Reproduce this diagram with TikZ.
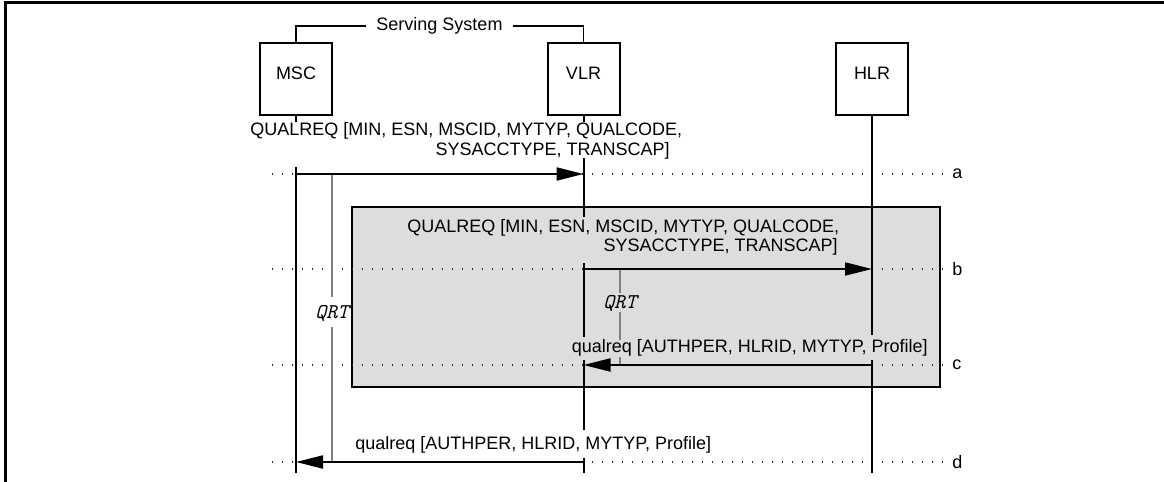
\documentclass[tikz,border=0pt]{standalone}
\usepackage{fontspec}
\setmainfont{Liberation Sans}
\usetikzlibrary{arrows.meta}
\definecolor{boxgray}{RGB}{221,221,221}
\definecolor{timergray}{RGB}{128,128,128}
\begin{document}
\begin{tikzpicture}[x=0.5pt,y=-0.5pt,
  entity/.style={draw, line width=1pt, minimum width=36pt, minimum height=36pt, inner sep=0pt, text height=6pt, text depth=6pt, font=\fontsize{9}{10}\selectfont},
  txt/.style={inner sep=0pt, font=\fontsize{9}{10}\selectfont},
  life/.style={line width=1pt},
  msg/.style={line width=1pt, -{Triangle[length=13.5pt,width=6.5pt]}},
  guide/.style={line width=0.6pt, dash pattern=on 0.6pt off 4.4pt, black!85},
  timer/.style={line width=1pt, timergray},
  qrt/.style={inner sep=0pt, font=\fontsize{10.5}{11}\ttfamily\itshape},
]
\useasboundingbox (0,0) rectangle (1164,482);
% frame
\draw[line width=1.4pt] (5.3,482) -- (5.3,2.5) -- (1164,2.5);
% group box
\node[draw, fill=boxgray, line width=1pt, minimum width=294pt, minimum height=90pt, inner sep=0pt] (grp) at (646,297) {};
% entities
\node[entity] (msc) at (296,79) {MSC};
\node[entity] (vlr) at (583.5,79) {VLR};
\node[entity] (hlr) at (872,79) {HLR};
% serving system bracket
\draw[line width=0.8pt] (msc.north) -- (296,26) -- (583.5,26) -- (vlr.north);
\node[txt, fill=white, inner xsep=5pt] (ss) at (439.5,26) {Serving System};
% levels
\coordinate (ya) at (0,174);
\coordinate (yb) at (0,269);
\coordinate (yc) at (0,365);
\coordinate (yd) at (0,462);
\coordinate (gl) at (272,0);
\coordinate (gr) at (947,0);
% guide lines
\foreach \y/\l in {ya/a,yb/b,yc/c,yd/d}{
  \draw[guide] (gl |- \y) -- (gr |- \y);
  \node[txt, anchor=west] (lab\l) at ([xshift=2.5pt]gr |- \y) {\l};
}
% lifelines
\draw[life] (msc.south) -- ++(0,6);
\draw[life] (296,167) -- (296,473);
\draw[life] (vlr.south) -- ++(0,6);
\draw[life] (583.5,158) -- (583.5,217);
\draw[life] (583.5,263) -- (583.5,337);
\draw[life] (583.5,360) -- (583.5,430);
\draw[life] (583.5,458) -- (583.5,473);
\draw[life] (hlr.south) -- (872,335);
\draw[life] (872,360) -- (872,473);
% timers
\draw[timer] (332,174) -- (332,297);
\draw[timer] (332,327) -- (332,462);
\draw[timer] (620,269) -- (620,293);
\draw[timer] (620,312) -- (620,340);
\draw[timer] (620,357) -- (620,365);
\node[qrt] (qrt1) at (332,313) {QRT};
\node[qrt] (qrt2) at (620,303) {QRT};
% messages
\draw[msg] (msc |- ya) -- (vlr |- ya);
\draw[msg] (vlr |- yb) -- (hlr |- yb);
\draw[msg] (hlr |- yc) -- (vlr |- yc);
\draw[msg] (vlr |- yd) -- (msc |- yd);
% message labels
\node[txt, anchor=west] (m1a) at (250,131) {QUALREQ [MIN, ESN, MSCID, MYTYP, QUALCODE,};
\node[txt, anchor=east] (m1b) at (670,151) {SYSACCTYPE, TRANSCAP]};
\node[txt, anchor=west] (m2a) at (407,228) {QUALREQ [MIN, ESN, MSCID, MYTYP, QUALCODE,};
\node[txt, anchor=east] (m2b) at (838,247) {SYSACCTYPE, TRANSCAP]};
\node[txt, anchor=west] (m3) at (571.5,348) {qualreq [AUTHPER, HLRID, MYTYP, Profile]};
\node[txt, anchor=west] (m4) at (355,445) {qualreq [AUTHPER, HLRID, MYTYP, Profile]};
\end{tikzpicture}
\end{document}
